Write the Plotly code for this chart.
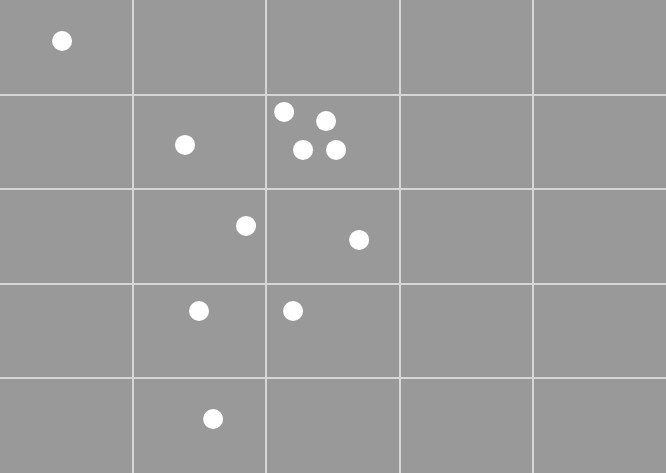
import plotly.graph_objects as go

x_vals = [0.466, 1.389, 2.133, 2.448, 2.275, 2.523, 1.847, 2.696, 1.494, 2.2, 1.6]
y_vals = [4.567, 3.468, 3.817, 3.72, 3.415, 3.415, 2.612, 2.464, 1.713, 1.713, 0.571]

fig = go.Figure(go.Scatter(x=x_vals, y=y_vals, mode="markers",
                           marker=dict(color="white", size=20, line=dict(width=0))))
fig.update_layout(width=666, height=473, margin=dict(l=0, r=0, t=0, b=0),
                  paper_bgcolor="#999999", plot_bgcolor="#999999", showlegend=False)
fig.update_xaxes(range=[0, 5], dtick=1, showticklabels=False, gridcolor="#d6d6d6",
                 gridwidth=1.5, zeroline=False, showline=True, mirror=True,
                 linecolor="#b8b8b8", linewidth=1)
fig.update_yaxes(range=[0, 5], dtick=1, showticklabels=False, gridcolor="#d6d6d6",
                 gridwidth=1.5, zeroline=False, showline=True, mirror=True,
                 linecolor="#b8b8b8", linewidth=1)
fig.write_html("out.html")
